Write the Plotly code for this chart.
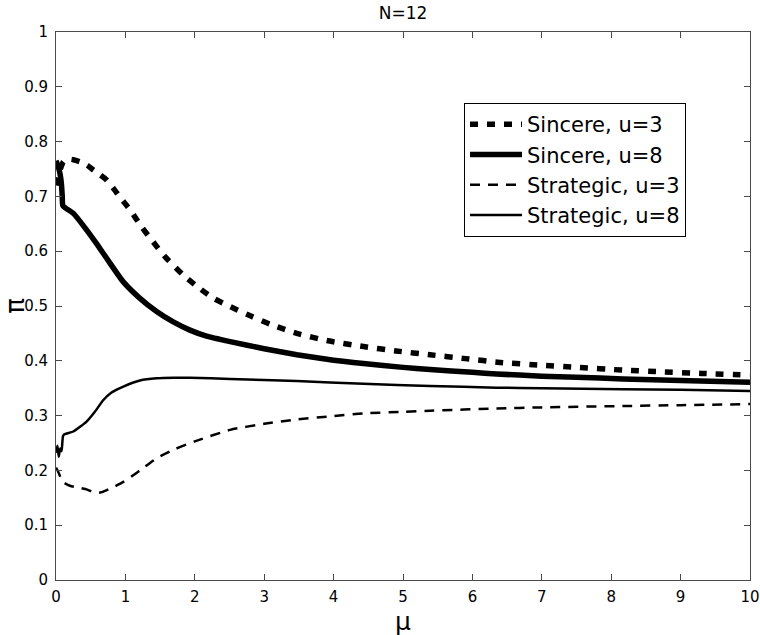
import plotly.graph_objects as go

# ---- data ----
mu_sin3 = [0, 0.05, 0.1, 0.15, 0.25, 0.35, 0.45, 0.54, 0.63, 0.73, 0.82, 0.92, 1.07, 1.23, 1.4, 1.57,
           1.83, 2.07, 2.27, 2.51, 2.8, 3.1, 3.47, 3.9, 4.43, 4.9, 5.39, 5.9, 6.4, 7.0, 7.5, 8.17, 8.7, 9.3, 10]
pi_sin3 = [0.72, 0.745, 0.762, 0.768, 0.767, 0.763, 0.757, 0.748, 0.740, 0.730, 0.716, 0.699, 0.675, 0.645,
           0.617, 0.590, 0.557, 0.532, 0.514, 0.499, 0.482, 0.466, 0.450, 0.437, 0.426, 0.418, 0.411, 0.404,
           0.397, 0.392, 0.388, 0.383, 0.380, 0.377, 0.374]

mu_sin8 = [0, 0.03, 0.06, 0.08, 0.09, 0.1, 0.25, 0.44, 0.6, 0.73, 0.85, 0.97, 1.21, 1.45, 1.69, 1.93, 2.17,
           2.51, 3.0, 3.47, 4.0, 4.43, 5.0, 5.39, 6.0, 6.35, 7.0, 7.5, 8.17, 9.0, 10]
pi_sin8 = [0.765, 0.755, 0.74, 0.72, 0.70, 0.683, 0.669, 0.639, 0.611, 0.587, 0.565, 0.544, 0.514, 0.490,
           0.471, 0.456, 0.445, 0.435, 0.422, 0.411, 0.401, 0.395, 0.388, 0.384, 0.379, 0.376, 0.372, 0.370,
           0.367, 0.364, 0.361]

mu_str3 = [0, 0.03, 0.1, 0.2, 0.35, 0.45, 0.56, 0.65, 0.73, 0.85, 0.97, 1.1, 1.21, 1.45, 1.7, 2.0, 2.51,
           3.0, 3.47, 4.0, 4.43, 5.0, 5.39, 6.35, 7.0, 8.17, 9.0, 10]
pi_str3 = [0.205, 0.198, 0.179, 0.172, 0.168, 0.165, 0.159, 0.160, 0.164, 0.171, 0.179, 0.190, 0.200, 0.222,
           0.238, 0.253, 0.274, 0.285, 0.293, 0.299, 0.304, 0.307, 0.309, 0.313, 0.315, 0.3175, 0.319, 0.321]

mu_str8 = [0, 0.02, 0.04, 0.06, 0.08, 0.1, 0.12, 0.25, 0.44, 0.56, 0.68, 0.8, 0.97, 1.21, 1.45, 1.7, 1.93,
           2.51, 3.47, 4.43, 5.39, 6.35, 7.0, 8.17, 9.0, 10]
pi_str8 = [0.232, 0.245, 0.225, 0.24, 0.235, 0.262, 0.266, 0.271, 0.289, 0.307, 0.328, 0.342, 0.353, 0.364,
           0.368, 0.369, 0.369, 0.367, 0.363, 0.358, 0.354, 0.351, 0.350, 0.348, 0.347, 0.345]

x_ticks = list(range(0, 11))
y_ticks = [0, 0.1, 0.2, 0.3, 0.4, 0.5, 0.6, 0.7, 0.8, 0.9, 1]
y_tick_text = ["0", "0.1", "0.2", "0.3", "0.4", "0.5", "0.6", "0.7", "0.8", "0.9", "1"]

FONT = "DejaVu Sans"
AX = "#4a4a4a"

fig = go.Figure()
fig.add_trace(go.Scatter(x=mu_sin3, y=pi_sin3, mode="lines", name="Sincere, u=3",
                         line=dict(color="black", width=5.5, dash="8px,9px", shape="spline", smoothing=0.6)))
fig.add_trace(go.Scatter(x=mu_sin8, y=pi_sin8, mode="lines", name="Sincere, u=8",
                         line=dict(color="black", width=5.5, shape="spline", smoothing=0.5)))
fig.add_trace(go.Scatter(x=mu_str3, y=pi_str3, mode="lines", name="Strategic, u=3",
                         line=dict(color="black", width=2.5, dash="10px,8px", shape="spline", smoothing=0.6)))
fig.add_trace(go.Scatter(x=mu_str8, y=pi_str8, mode="lines", name="Strategic, u=8",
                         line=dict(color="black", width=2.5, shape="spline", smoothing=0.5)))

axis_common = dict(showline=True, linecolor=AX, linewidth=1, mirror="ticks", ticks="inside",
                   ticklen=6, tickcolor=AX, tickwidth=1, showgrid=False, zeroline=False,
                   ticklabeloverflow="allow", automargin=False,
                   tickfont=dict(family=FONT, size=15, color="black"))

fig.update_layout(
    width=760, height=635,
    margin=dict(l=56, r=10, t=32, b=55, autoexpand=False),
    paper_bgcolor="white", plot_bgcolor="white",
    font=dict(family=FONT, color="black"),
    title=dict(text="N=12", x=0.5, xref="paper", y=1 - 13 / 635, yref="container",
               xanchor="center", yanchor="middle", font=dict(family=FONT, size=17, color="black")),
    xaxis=dict(range=[0, 10], tickvals=x_ticks, ticklabelstandoff=3, **axis_common),
    yaxis=dict(range=[0, 1], tickvals=y_ticks, ticktext=y_tick_text, ticklabelstandoff=4,
               title=dict(text="π", font=dict(family=FONT, size=26, color="black"), standoff=0),
               **axis_common),
    legend=dict(x=(464 - 56) / 694, y=(580 - 103) / 548, xanchor="left", yanchor="top",
                bgcolor="white", bordercolor="black", borderwidth=1, itemwidth=52,
                font=dict(family=FONT, size=21, color="black")),
    showlegend=True,
    annotations=[dict(text="μ", xref="paper", yref="paper", x=0.5, y=(580 - 621) / 548,
                      xanchor="center", yanchor="middle", showarrow=False,
                      font=dict(family=FONT, size=25, color="black"))],
)

fig.write_html("out.html", config={"displayModeBar": False},
               post_script="document.body.style.margin='0px';")
